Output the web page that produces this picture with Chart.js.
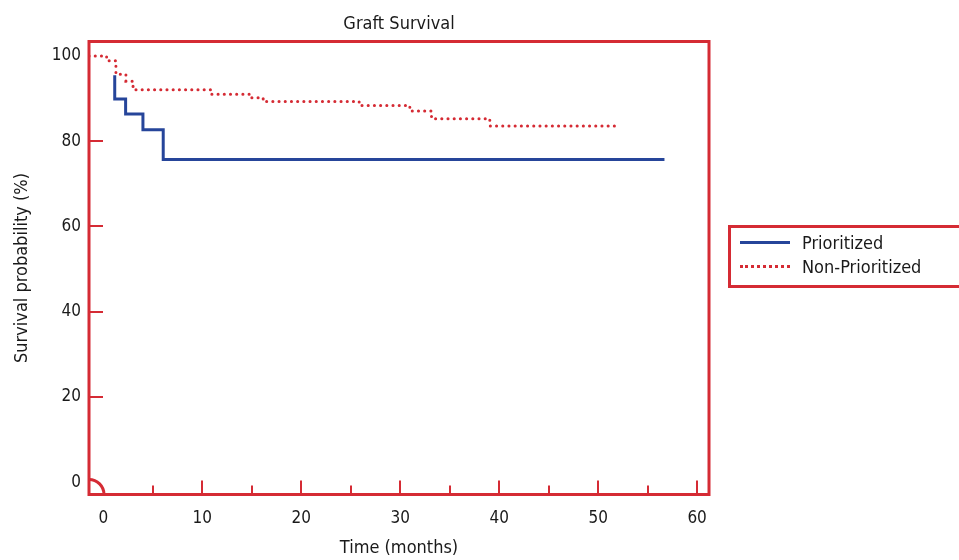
<!DOCTYPE html>
<html>
<head>
<meta charset="utf-8">
<title>Graft Survival</title>
<script src="https://cdn.jsdelivr.net/npm/chart.js@4.4.0/dist/chart.umd.min.js"></script>
<style>
  html, body { margin: 0; padding: 0; background: #fff; overflow: hidden; }
  #wrap { position: relative; width: 959px; height: 560px; }
  #graftChart { position: absolute; left: 0; top: 0; }
  .legend-box {
    position: absolute; left: 728px; top: 225px; width: 260px; height: 57px;
    border: 3px solid #d52b34;
    font-family: "Liberation Sans Narrow", "DejaVu Sans Condensed", Arial, sans-serif;
    font-size: 18px; color: #1a1a1a;
  }
  .legend-item { position: absolute; left: 9px; height: 24px; display: flex; align-items: center; white-space: nowrap; }
  .legend-line { width: 50px; height: 0; margin-right: 12px; }
</style>
</head>
<body>
<div id="wrap">
  <canvas id="graftChart" width="959" height="560"></canvas>
  <div class="legend-box" id="graftLegend"></div>
</div>
<script>
// Kaplan-Meier steps (time in months, survival in %)
const prioritizedTime = [1.15, 1.15, 2.25, 4.0, 6.05, 56.7];
const prioritizedSurvival = [95.5, 89.9, 86.4, 82.7, 75.7, 75.7];

const nonPrioritizedTime = [-1.45, 0.33, 1.27, 2.28, 3.0, 3.2, 10.87, 14.88, 16.15, 25.85, 30.97, 33.16, 39.05, 52.2];
const nonPrioritizedSurvival = [100, 98.9, 95.7, 94.1, 92.7, 92.1, 91.0, 90.2, 89.3, 88.4, 87.1, 85.3, 83.6, 83.6];

const seriesNames = ['Prioritized', 'Non-Prioritized'];

const xTickValues = [0, 10, 20, 30, 40, 50, 60];
const xMinorTicks = [5, 15, 25, 35, 45, 55];
const yTickValues = [0, 20, 40, 60, 80, 100];
const yInnerTicks = [20, 40, 60, 80];

const RED = '#d52b34';
const BLUE = '#26459a';
const FONT = '"Liberation Sans Narrow", "DejaVu Sans Condensed", Arial, sans-serif';

Chart.defaults.font.family = FONT;
Chart.defaults.color = '#1a1a1a';

const toPoints = (xs, ys) => xs.map((x, i) => ({ x, y: ys[i] }));

// moldura vermelha, marcas internas e arco na origem
const frameAndTicks = {
  id: 'frameAndTicks',
  afterDatasetsDraw(chart) {
    const { ctx, chartArea: a, scales: { x, y } } = chart;
    ctx.save();
    ctx.strokeStyle = RED;
    ctx.lineWidth = 2;
    ctx.beginPath();
    xTickValues.forEach(v => {
      if (v === 0) return;
      const px = Math.round(x.getPixelForValue(v));
      ctx.moveTo(px, a.bottom);
      ctx.lineTo(px, a.bottom - 14);
    });
    xMinorTicks.forEach(v => {
      const px = Math.round(x.getPixelForValue(v));
      ctx.moveTo(px, a.bottom);
      ctx.lineTo(px, a.bottom - 9);
    });
    yInnerTicks.forEach(v => {
      const py = Math.round(y.getPixelForValue(v));
      ctx.moveTo(a.left, py);
      ctx.lineTo(a.left + 14, py);
    });
    ctx.stroke();

    ctx.lineWidth = 3;
    ctx.beginPath();
    ctx.arc(a.left, a.bottom, 15, -Math.PI / 2, 0);
    ctx.stroke();

    ctx.strokeRect(a.left, a.top, a.right - a.left, a.bottom - a.top);
    ctx.restore();
  }
};

const ctx = document.getElementById('graftChart').getContext('2d');

const graftChart = new Chart(ctx, {
  type: 'line',
  data: {
    datasets: [
      {
        label: seriesNames[0],
        data: toPoints(prioritizedTime, prioritizedSurvival),
        borderColor: BLUE,
        borderWidth: 3,
        stepped: true,
        pointRadius: 0,
        fill: false
      },
      {
        label: seriesNames[1],
        data: toPoints(nonPrioritizedTime, nonPrioritizedSurvival),
        borderColor: RED,
        borderWidth: 3,
        borderDash: [0.1, 6.1],
        borderCapStyle: 'round',
        stepped: true,
        pointRadius: 0,
        fill: false
      }
    ]
  },
  options: {
    responsive: false,
    animation: false,
    devicePixelRatio: 1,
    layout: { padding: { left: 0, right: 250, top: 0, bottom: 0 } },
    plugins: {
      legend: { display: false },
      tooltip: { enabled: false }
    },
    scales: {
      x: {
        type: 'linear',
        min: -1.45,
        max: 61.2,
        afterBuildTicks: s => { s.ticks = xTickValues.map(v => ({ value: v })); },
        afterFit: s => { s.height = 65.5; },
        grid: { display: false, drawTicks: false },
        border: { display: false },
        ticks: { padding: 14, font: { size: 17 }, maxRotation: 0 },
        title: { display: true, text: 'Time (months)', font: { size: 18 }, padding: { top: 0, bottom: 1 } }
      },
      // eixo superior só para centralizar o título sobre a área do gráfico
      top: {
        type: 'linear',
        position: 'top',
        display: true,
        afterFit: s => { s.height = 41.5; },
        grid: { display: false, drawTicks: false },
        border: { display: false },
        ticks: { display: false },
        title: { display: true, text: 'Graft Survival', font: { size: 18 }, padding: { top: 14, bottom: 0 } }
      },
      y: {
        type: 'linear',
        min: -2.9,
        max: 103.4,
        afterBuildTicks: s => { s.ticks = yTickValues.map(v => ({ value: v })); },
        afterFit: s => { s.width = 89; },
        grid: { display: false, drawTicks: false },
        border: { display: false },
        ticks: { padding: 8, font: { size: 17 } },
        title: { display: true, text: 'Survival probability (%)', font: { size: 18 }, padding: { top: 12, bottom: 0 } }
      }
    }
  },
  plugins: [frameAndTicks]
});

// legenda manual
const legendContainer = document.getElementById('graftLegend');
const legendStyles = [
  `border-top: 3px solid ${BLUE};`,
  `border-top: 3px dotted ${RED};`
];
seriesNames.forEach((name, index) => {
  const legendItem = document.createElement('div');
  legendItem.classList.add('legend-item');
  legendItem.style.top = (2 + index * 24.5) + 'px';
  legendItem.innerHTML = `<span class="legend-line" style="${legendStyles[index]}"></span>${name}`;
  legendContainer.appendChild(legendItem);
});
</script>
</body>
</html>
